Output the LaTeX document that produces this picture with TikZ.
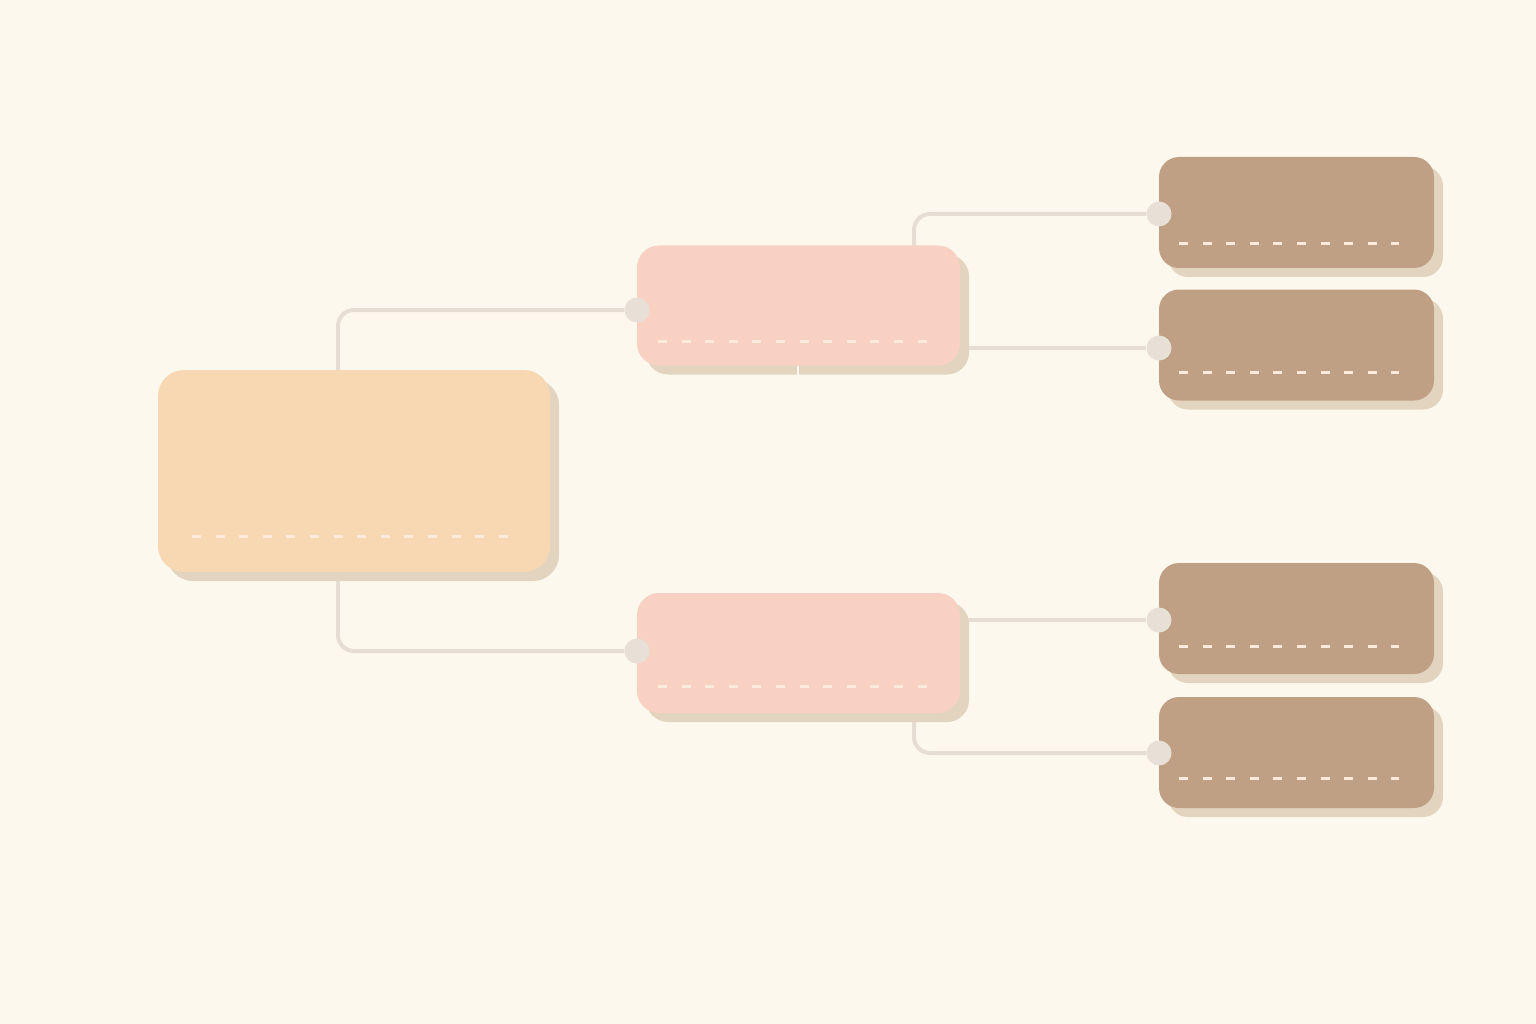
\documentclass[tikz,border=0pt]{standalone}
\usetikzlibrary{shadows,calc}
\definecolor{bgc}{HTML}{FDF8EE}
\definecolor{rootc}{HTML}{F8D8B2}
\definecolor{pinkc}{HTML}{F8D1C2}
\definecolor{brownc}{HTML}{BFA084}
\definecolor{shadc}{HTML}{E2D4BE}
\definecolor{linec}{HTML}{E6DDD3}
\definecolor{dotc}{HTML}{E8E0D6}
\definecolor{dashc}{HTML}{FCEBDC}
\pgfdeclarelayer{back}
\pgfdeclarelayer{bg}
\pgfsetlayers{back,bg,main}
\tikzset{
  card/.style={rectangle, draw=none, rounded corners=26pt, inner sep=0pt,
    copy shadow={shadow xshift=9pt, shadow yshift=-9pt, fill=shadc, draw=none}},
  rootbox/.style={card, fill=rootc, minimum width=392pt, minimum height=202pt},
  midbox/.style={card, fill=pinkc, minimum width=323pt, minimum height=120pt, rounded corners=22pt},
  leafbox/.style={card, fill=brownc, minimum width=275pt, minimum height=111pt, rounded corners=20pt},
  conn/.style={draw=linec, line width=4pt, rounded corners=16pt},
  dot/.style={circle, fill=dotc, draw=none, minimum size=25pt, inner sep=0pt},
  dashline/.style={draw=dashc, line width=3pt, dash pattern=on 9pt off 14.6pt},
}
\begin{document}
\begin{tikzpicture}[x=1pt,y=-1pt]
\begin{pgfonlayer}{back}
\fill[bgc] (0,0) rectangle (1536,1024);
\end{pgfonlayer}
\useasboundingbox (0,0) rectangle (1536,1024);
% boxes
\node[rootbox] (root) at (354,471) {};
\node[midbox] (p1) at (798.5,305.5) {};
\node[midbox] (p2) at (798.5,653) {};
\node[leafbox] (b1) at (1296.5,212.5) {};
\node[leafbox] (b2) at (1296.5,345) {};
\node[leafbox] (b3) at (1296.5,618.5) {};
\node[leafbox] (b4) at (1296.5,752.5) {};
% gap in shadow of p1
\draw[bgc, line width=2pt] (797.5,366) -- (797.5,376);
% dots
\node[dot] (d1) at (637,310) {};
\node[dot] (d2) at (637,651) {};
\node[dot] (d3) at (1159,214) {};
\node[dot] (d4) at (1159,348) {};
\node[dot] (d5) at (1159,620) {};
\node[dot] (d6) at (1159,753) {};
% connectors
\begin{pgfonlayer}{bg}
\draw[conn] ([xshift=-16pt]root.center) |- (d1);
\draw[conn] ([xshift=-16pt]root.center) |- (d2);
\draw[conn] ([xshift=115.5pt]p1.center) |- (d3);
\draw[conn] (p1.center |- d4) -- (d4);
\draw[conn] (p2.center |- d5) -- (d5);
\draw[conn] ([xshift=115.5pt]p2.center) |- (d6);
\end{pgfonlayer}
% dashed lines
\draw[dashline] (192,536) -- (510,536);
\draw[dashline] (658,341) -- (932,341);
\draw[dashline] (658,686) -- (932,686);
\draw[dashline] (1179,244) -- (1399,244);
\draw[dashline] (1179,372) -- (1399,372);
\draw[dashline] (1179,646) -- (1399,646);
\draw[dashline] (1179,778) -- (1399,778);
\end{tikzpicture}
\end{document}
